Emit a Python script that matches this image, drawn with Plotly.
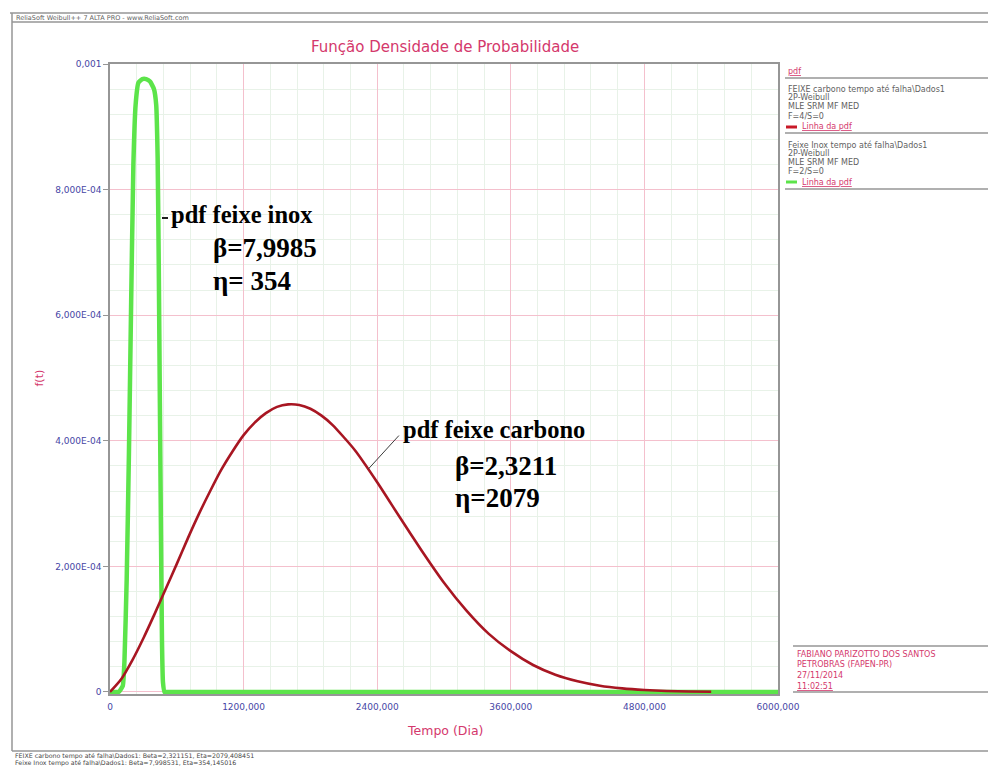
import plotly.graph_objects as go

# Tempo (Dia) and pdf values for the carbon-steel beam (2P-Weibull, beta 2.3211, eta 2079)
tempo_carbono = [0, 100, 200, 300, 400, 500, 600, 700, 800, 900, 1000, 1100, 1200,
                 1300, 1400, 1500, 1600, 1700, 1800, 1900, 2000, 2200, 2400, 2600,
                 2800, 3000, 3200, 3400, 3600, 3800, 4000, 4200, 4400, 4600, 4800,
                 5000, 5200, 5400]
pdf_carbono = [0, 2.03e-5, 5.04e-5, 8.56e-5, 1.24e-4, 1.64e-4, 2.04e-4, 2.45e-4,
               2.84e-4, 3.20e-4, 3.54e-4, 3.83e-4, 4.09e-4, 4.29e-4, 4.44e-4,
               4.54e-4, 4.58e-4, 4.57e-4, 4.51e-4, 4.40e-4, 4.25e-4, 3.85e-4,
               3.34e-4, 2.79e-4, 2.25e-4, 1.74e-4, 1.30e-4, 9.3e-5, 6.5e-5, 4.3e-5,
               2.75e-5, 1.7e-5, 1.0e-5, 5.8e-6, 3.2e-6, 1.6e-6, 8e-7, 3e-7]

# Stainless beam pdf (2P-Weibull, beta 7.9985, eta 354), plotted up to the axis ceiling
tempo_inox = [0, 80, 115, 130, 150, 170, 190, 210, 230, 255, 290, 325, 360, 395,
              415, 428, 438, 448, 458, 467, 476, 490, 510, 560, 6000]
pdf_inox = [0, 5e-7, 1e-5, 5e-5, 1.8e-4, 3.8e-4, 6.2e-4, 8.4e-4, 9.35e-4, 9.7e-4,
            9.76e-4, 9.76e-4, 9.72e-4, 9.6e-4, 9.35e-4, 8.5e-4, 6.8e-4, 4.6e-4,
            2.5e-4, 8e-5, 1.5e-5, 0, 0, 0, 0]

x_ticks = [0, 1200, 2400, 3600, 4800, 6000]
x_tick_text = ["0", "1200,000", "2400,000", "3600,000", "4800,000", "6000,000"]
y_ticks = [0, 2e-4, 4e-4, 6e-4, 8e-4, 1e-3]
y_tick_text = ["0", "2,000E-04", "4,000E-04", "6,000E-04", "8,000E-04", "0,001"]
x_minor = [v for v in range(0, 6001, 240)]
y_minor = [i * 4e-5 for i in range(26)]

legend_lines = [
    ("FEIXE carbono tempo até falha\\Dados1", 89),
    ("2P-Weibull", 97),
    ("MLE SRM MF MED", 106),
    ("F=4/S=0", 116),
    ("Feixe Inox tempo até falha\\Dados1", 145),
    ("2P-Weibull", 153),
    ("MLE SRM MF MED", 162),
    ("F=2/S=0", 172),
]
info_lines = [
    ("FABIANO PARIZOTTO DOS SANTOS", 654),
    ("PETROBRAS (FAPEN-PR)", 664),
    ("27/11/2014", 675),
    ("<u>11:02:51</u>", 686),
]
footer_lines = [
    ("FEIXE carbono tempo até falha\\Dados1: Beta=2,321151, Eta=2079,408451", 756),
    ("Feixe Inox tempo até falha\\Dados1: Beta=7,998531, Eta=354,145016", 763),
]

W, H = 988, 767
L, R, T, B = 110, 778, 64, 694
PW, PH = R - L, B - T


def px(xp):
    return (xp - L) / PW


def py(yp):
    return (B - yp) / PH


PINK = "rgb(212,56,108)"
GREY_TXT = "rgb(95,95,95)"
FRAME = "rgb(150,150,150)"

fig = go.Figure()
fig.add_trace(go.Scatter(x=tempo_inox, y=pdf_inox, mode="lines",
                         line=dict(color="rgb(92,228,74)", width=4.5, shape="spline",
                                   smoothing=0.4),
                         showlegend=False, hoverinfo="skip"))
fig.add_trace(go.Scatter(x=tempo_carbono, y=pdf_carbono, mode="lines",
                         line=dict(color="rgb(168,22,34)", width=2.6, shape="spline",
                                   smoothing=0.6),
                         showlegend=False, hoverinfo="skip"))

tick_font = dict(family="DejaVu Sans", size=9, color="rgb(70,70,165)")
fig.update_xaxes(range=[0, 6000], tickvals=x_ticks, ticktext=x_tick_text,
                 showgrid=True, gridcolor="rgb(244,192,205)", gridwidth=1.3,
                 minor=dict(tickvals=x_minor, showgrid=True,
                            gridcolor="rgb(232,242,232)", gridwidth=1),
                 showline=True, linecolor=FRAME, linewidth=1.5, mirror=True,
                 ticks="", tickfont=tick_font, ticklabelstandoff=3,
                 zeroline=False, layer="below traces")
fig.update_yaxes(range=[-3.2e-6, 1e-3], tickvals=y_ticks, ticktext=y_tick_text,
                 showgrid=True, gridcolor="rgb(244,192,205)", gridwidth=1.3,
                 minor=dict(tickvals=y_minor, showgrid=True,
                            gridcolor="rgb(232,242,232)", gridwidth=1),
                 showline=True, linecolor=FRAME, linewidth=1.5, mirror=True,
                 ticks="outside", ticklen=5, tickcolor=FRAME, tickfont=tick_font,
                 zeroline=False, layer="below traces")

ann = []
# title and axis titles
ann.append(dict(text="Função Densidade de Probabilidade", x=px(445), y=py(47),
                font=dict(family="DejaVu Sans", size=15, color=PINK)))
ann.append(dict(text="Tempo (Dia)", x=px(445), y=py(730),
                font=dict(family="DejaVu Sans", size=12.5, color=PINK)))
ann.append(dict(text="f(t)", x=px(30), y=py(378), textangle=-90,
                font=dict(family="DejaVu Sans", size=11, color=PINK)))
# window caption
ann.append(dict(text="ReliaSoft Weibull++ 7 ALTA PRO - www.ReliaSoft.com",
                x=px(14), y=py(18), xanchor="left",
                font=dict(family="DejaVu Sans", size=6.5, color=GREY_TXT)))

# curve labels
lab_font = dict(family="Liberation Serif", size=24.5, color="black")
par_font = dict(family="Liberation Serif", size=27, color="black")
ann.append(dict(text="<b>pdf feixe inox</b>", x=px(169), y=py(214), xanchor="left",
                font=lab_font))
ann.append(dict(text="<b>β=7,9985</b>", x=px(211), y=py(248), xanchor="left",
                font=par_font))
ann.append(dict(text="<b>η= 354</b>", x=px(211), y=py(281), xanchor="left",
                font=par_font))
ann.append(dict(text="<b>pdf feixe carbono</b>", x=px(401), y=py(430), xanchor="left",
                font=lab_font))
ann.append(dict(text="<b>β=2,3211</b>", x=px(453), y=py(466), xanchor="left",
                font=par_font))
ann.append(dict(text="<b>η=2079</b>", x=px(453), y=py(498), xanchor="left",
                font=par_font))
# leader from the carbon label down to its curve
ann.append(dict(text="", x=2320, y=3.55e-4, xref="x", yref="y", showarrow=True,
                arrowhead=0, arrowwidth=1, arrowcolor="rgb(60,60,60)",
                ax=32, ay=-35))

# side panel
small = dict(family="DejaVu Sans", size=8)
ann.append(dict(text="<u>pdf</u>", x=px(786), y=py(72), xanchor="left",
                font=dict(small, color=PINK)))
for txt, yy in legend_lines:
    ann.append(dict(text=txt, x=px(786), y=py(yy), xanchor="left",
                    font=dict(small, color=GREY_TXT)))
ann.append(dict(text="<u>Linha da pdf</u>", x=px(800), y=py(127), xanchor="left",
                font=dict(small, color=PINK)))
ann.append(dict(text="<u>Linha da pdf</u>", x=px(800), y=py(182), xanchor="left",
                font=dict(small, color=PINK)))
for txt, yy in info_lines:
    ann.append(dict(text=txt, x=px(795), y=py(yy), xanchor="left",
                    font=dict(small, color=PINK)))
for txt, yy in footer_lines:
    ann.append(dict(text=txt, x=px(13), y=py(yy), xanchor="left",
                    font=dict(family="DejaVu Sans", size=6.3, color="rgb(70,70,70)")))

for a in ann:
    a.setdefault("xref", "paper")
    a.setdefault("yref", "paper")
    a.setdefault("showarrow", False)
    a.setdefault("yanchor", "middle")
fig.update_layout(annotations=ann)

shapes = []


def hline(x0, x1, yy, color=FRAME, w=1.5):
    shapes.append(dict(type="line", xref="paper", yref="paper", x0=px(x0), x1=px(x1),
                       y0=py(yy), y1=py(yy), line=dict(color=color, width=w)))


def vline(xx, y0, y1, color=FRAME, w=1.5):
    shapes.append(dict(type="line", xref="paper", yref="paper", x0=px(xx), x1=px(xx),
                       y0=py(y0), y1=py(y1), line=dict(color=color, width=w)))


# window frame
hline(10, 988, 13)
hline(12, 988, 22)
hline(12, 988, 751)
vline(12, 13, 751)
# side panel separators
hline(785, 988, 78)
hline(785, 988, 133)
hline(785, 988, 189)
hline(793, 988, 646)
hline(793, 988, 692)
# legend swatches
hline(786, 797, 127, color="rgb(200,25,40)", w=3)
hline(786, 797, 182, color="rgb(92,228,74)", w=3)
# small dash marking the stainless curve
hline(162, 168, 218, color="rgb(30,30,30)", w=2)
fig.update_layout(shapes=shapes)

fig.update_layout(width=W, height=H, margin=dict(l=L, r=W - R, t=T, b=H - B),
                  paper_bgcolor="white", plot_bgcolor="white", showlegend=False)
fig.write_html("out.html")
